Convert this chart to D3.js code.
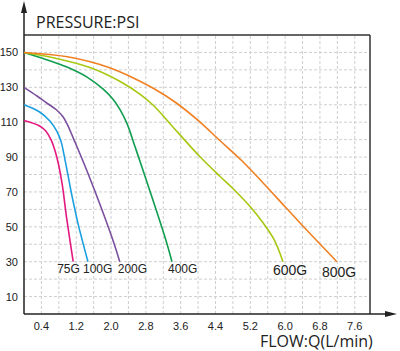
<!DOCTYPE html>
<html>
<head>
<meta charset="utf-8">
<script src="https://cdn.jsdelivr.net/npm/d3@7"></script>
<style>
  body { margin: 0; background: #fff; }
  svg { display: block; }
</style>
</head>
<body>
<div id="chart"></div>
<script>
// pump curves, [flow L/min, pressure psi]
var names = ["75G", "100G", "200G", "400G", "600G", "800G"];
var colors = ["#e4197f", "#1c9fe0", "#7b509e", "#0f9e4f", "#a6c811", "#f08022"];

var curve75 = [[0,111],[0.35,108],[0.5,105],[0.62,100],[0.72,93],[0.8,85],[0.88,74],[0.98,55],[1.13,30]];
var curve100 = [[0,120],[0.35,116],[0.6,110.5],[0.75,105],[0.85,99],[0.93,90],[1.0,81],[1.1,68],[1.24,52],[1.47,30]];
var curve200 = [[0,130],[0.3,125],[0.52,121],[0.75,117],[0.9,113],[1.0,108.5],[1.13,101],[1.48,80],[2.02,44],[2.2,30]];
var curve400 = [[0,150],[0.5,146],[1.0,141.5],[1.44,136],[1.82,129],[2.05,123],[2.2,117.5],[2.37,109],[2.55,96],[2.74,82],[3.24,44],[3.4,30]];
var curve600 = [[0,150],[0.67,147],[1.5,141.5],[2.2,133.5],[2.67,126],[3.0,119],[3.36,109],[4.05,90],[4.5,79],[4.8,72],[5.2,61.5],[5.5,52],[5.75,42.5],[5.95,30]];
var curve800 = [[0,150],[1.0,147.5],[2.0,141],[2.5,135.5],[3.0,129],[3.5,121],[4.0,111],[4.5,99.5],[5.0,88],[5.5,75],[6.0,61.5],[6.5,48],[7.19,30]];

var xTicks = [0.4, 1.2, 2.0, 2.8, 3.6, 4.4, 5.2, 6.0, 6.8, 7.6];
var yTicks = [10, 30, 50, 70, 90, 110, 130, 150];
var xGrid = d3.range(1, 20).map(function(i) { return +(i * 0.4).toFixed(1); });
var yGrid = d3.range(10, 160, 10);

// label placement (style only)
var labelDx = [-16, -5, -2, -4, -10, -15];
var labelDy = [11, 11, 11, 11, 13, 15];
var labelSize = [12, 12, 12, 12, 14, 14];

function draw() {
    var width = 400, height = 351;
    var svg = d3.select("#chart").append("svg")
        .attr("width", width)
        .attr("height", height);

    var x = d3.scaleLinear().domain([0, 7.95]).range([24, 370]);
    var y = d3.scaleLinear().domain([0, 160]).range([314, 35]);

    // grid
    svg.append("g").selectAll("line.v")
        .data(xGrid).enter().append("line")
        .attr("x1", d => x(d)).attr("x2", d => x(d))
        .attr("y1", y(0)).attr("y2", y(160))
        .attr("stroke", "#cfcfcf").attr("stroke-dasharray", "3,2");
    svg.append("g").selectAll("line.h")
        .data(yGrid).enter().append("line")
        .attr("x1", x(0)).attr("x2", x(7.95))
        .attr("y1", d => y(d)).attr("y2", d => y(d))
        .attr("stroke", "#cfcfcf").attr("stroke-dasharray", "3,2");

    // frame top / right
    svg.append("line")
        .attr("x1", x(0)).attr("x2", x(7.95))
        .attr("y1", y(160)).attr("y2", y(160))
        .attr("stroke", "#666").attr("stroke-width", 2);
    svg.append("line")
        .attr("x1", x(7.95)).attr("x2", x(7.95))
        .attr("y1", y(160)).attr("y2", y(0))
        .attr("stroke", "#333").attr("stroke-width", 1.5);

    // axes with arrows
    svg.append("line")
        .attr("x1", x(0)).attr("x2", x(0))
        .attr("y1", y(0)).attr("y2", 10)
        .attr("stroke", "#222").attr("stroke-width", 1.5);
    svg.append("path")
        .attr("d", `M${x(0)},1 L${x(0) - 3},13 L${x(0) + 3},13 Z`)
        .attr("fill", "#222");
    svg.append("line")
        .attr("x1", x(0)).attr("x2", 388)
        .attr("y1", y(0)).attr("y2", y(0))
        .attr("stroke", "#222").attr("stroke-width", 1.5);
    svg.append("path")
        .attr("d", `M397,${y(0)} L385,${y(0) - 3} L385,${y(0) + 3} Z`)
        .attr("fill", "#222");

    // tick labels
    svg.append("g").selectAll("text")
        .data(xTicks).enter().append("text")
        .attr("x", d => x(d)).attr("y", 330)
        .attr("text-anchor", "middle")
        .attr("font-family", "Liberation Sans, Arial, sans-serif")
        .attr("font-size", 11).attr("fill", "#222")
        .text(d => d.toFixed(1));
    svg.append("g").selectAll("text")
        .data(yTicks).enter().append("text")
        .attr("x", 18).attr("y", d => y(d) + 4)
        .attr("text-anchor", "end")
        .attr("font-family", "Liberation Sans, Arial, sans-serif")
        .attr("font-size", 11).attr("fill", "#222")
        .text(d => d);

    // titles
    svg.append("text")
        .attr("x", 36).attr("y", 28)
        .attr("font-family", "Open Sans, sans-serif")
        .attr("font-size", 16).attr("fill", "#222")
        .text("PRESSURE:PSI");
    svg.append("text")
        .attr("x", 260).attr("y", 347)
        .attr("font-family", "Open Sans, sans-serif")
        .attr("font-size", 16).attr("fill", "#222")
        .text("FLOW:Q(L/min)");

    var line = d3.line()
        .x(d => x(d[0]))
        .y(d => y(d[1]))
        .curve(d3.curveCatmullRom.alpha(0.5));

    var curves = [curve75, curve100, curve200, curve400, curve600, curve800];

    svg.append("g")
        .attr("fill", "none")
        .attr("stroke-width", 1.6)
        .selectAll("path")
        .data(curves).enter().append("path")
        .attr("stroke", (d, i) => colors[i])
        .attr("d", d => line(d));

    svg.append("g").selectAll("text")
        .data(curves).enter().append("text")
        .attr("x", (d, i) => x(d[d.length - 1][0]) + labelDx[i])
        .attr("y", (d, i) => y(d[d.length - 1][1]) + labelDy[i])
        .attr("font-family", "Liberation Sans, Arial, sans-serif")
        .attr("font-size", (d, i) => labelSize[i])
        .attr("fill", "#222")
        .text((d, i) => names[i]);
}

window.onload = draw;
</script>
</body>
</html>
